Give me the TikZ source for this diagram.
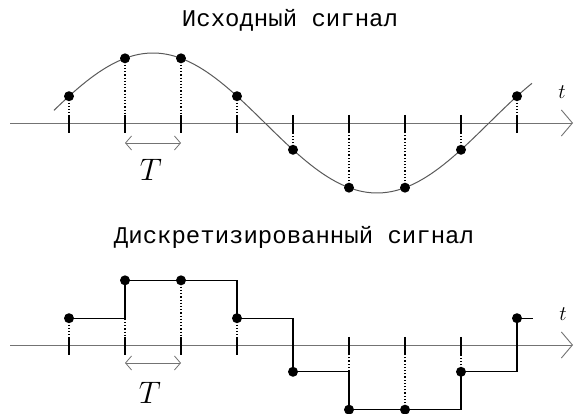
\documentclass[tikz,border=0pt]{standalone}
\usepackage{fontspec}
\newfontfamily\monocyr{Liberation Mono}
\usetikzlibrary{arrows.meta}
\begin{document}
\begin{tikzpicture}[x=1pt,y=-1pt,
  dot/.style={circle,fill=black,inner sep=0pt,minimum size=10pt},
  axisline/.style={draw=black!55,line width=0.8pt,-{Straight Barb[length=11pt,width=26pt,line width=0.9pt]}},
  curve/.style={draw=black!65,line width=1pt},
  sampleline/.style={dotted,line width=1.2pt},
  tickmark/.style={line width=1.4pt},
  holdline/.style={line width=1.3pt},
  periodarrow/.style={draw=black!55,line width=0.8pt,{Straight Barb[length=6pt,width=14pt]}-{Straight Barb[length=6pt,width=14pt]}},
  title/.style={font=\monocyr\fontsize{24}{28}\selectfont},
  tlabel/.style={font=\fontsize{22}{24}\selectfont},
  Tlabel/.style={font=\fontsize{24}{28}\selectfont,scale=1.25}]
\useasboundingbox (0,0) rectangle (574,414);
% titles
\node[title] (title1) at (290,20) {Исходный сигнал};
\node[title] (title2) at (294,237) {Дискретизированный сигнал};
% ---------- top panel ----------
\coordinate (ax1s) at (10,123);
\coordinate (ax1e) at (573,123);
\draw[axisline] (ax1s) -- (ax1e);
\node[tlabel] (t1) at (562,92) {$t$};
\draw[curve] plot[domain=54:532,samples=120] (\x,{123-70*cos((\x-153)/448*360)});
\foreach \i in {1,...,9}{
  \pgfmathsetmacro{\xx}{69+56*(\i-1)}
  \pgfmathsetmacro{\yy}{123-70*cos((\xx-153)/448*360)}
  \coordinate (ta\i) at (\xx,123);
  \draw[tickmark] (\xx,115) -- (\xx,133);
  \node[dot] (a\i) at (\xx,\yy) {};
  \draw[sampleline] (a\i.center) -- (ta\i);
}
\coordinate (p1l) at (125,143);
\coordinate (p1r) at (181,143);
\draw[periodarrow] (p1l) -- (p1r);
\node[Tlabel] (T1) at (151,170) {$T$};
% ---------- bottom panel ----------
\coordinate (ax2s) at (10,345);
\coordinate (ax2e) at (573,345);
\draw[axisline] (ax2s) -- (ax2e);
\node[tlabel] (t2) at (563,314) {$t$};
\foreach \i in {1,...,9}{
  \pgfmathsetmacro{\xx}{69+56*(\i-1)}
  \pgfmathsetmacro{\yy}{345-70*cos((\xx-153)/448*360)}
  \coordinate (tb\i) at (\xx,345);
  \draw[tickmark] (\xx,337) -- (\xx,355);
  \node[dot] (b\i) at (\xx,\yy) {};
  \draw[sampleline] (b\i.center) -- (tb\i);
}
\coordinate (bend) at ([xshift=16pt]b9.center);
\draw[holdline] (b1.center) -| (b2.center) -| (b3.center) -| (b4.center) -| (b5.center)
  -| (b6.center) -| (b7.center) -| (b8.center) -| (b9.center) -- (bend);
\coordinate (p2l) at (125,363);
\coordinate (p2r) at (181,363);
\draw[periodarrow] (p2l) -- (p2r);
\node[Tlabel] (T2) at (150,393) {$T$};
\end{tikzpicture}
\end{document}
